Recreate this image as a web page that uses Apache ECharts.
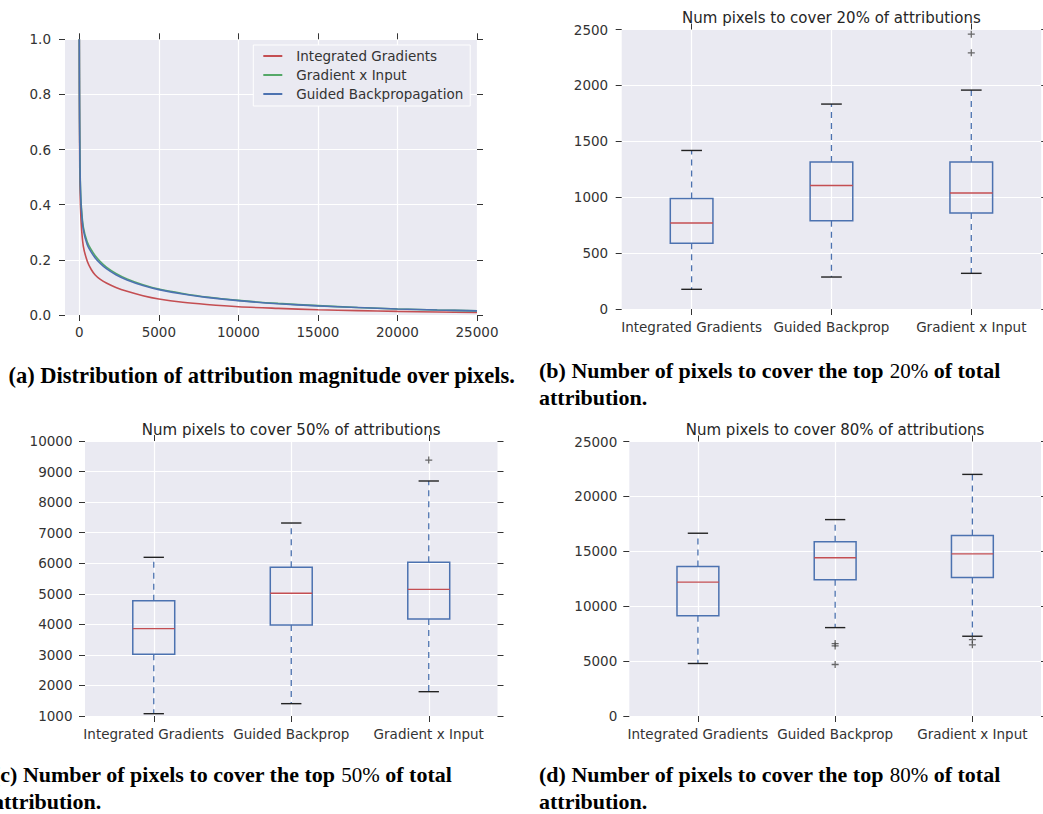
<!DOCTYPE html>
<html><head><meta charset="utf-8">
<script src="https://cdn.jsdelivr.net/npm/echarts@6/dist/echarts.min.js"></script>
<style>html,body{margin:0;padding:0;background:#fff}#c{width:1043px;height:814px}</style>
</head><body><div id="c"></div>
<script>
// ---------- data ----------
const lineX = [0,10,30,60,120,250,500,750,1000,1300,1700,2300,3000,4000,5000,6500,8000,10000,12500,15000,17500,20000,22500,25000];
const igCurve  = [1.0,0.75,0.52,0.42,0.33,0.25,0.195,0.165,0.145,0.130,0.116,0.100,0.086,0.070,0.058,0.046,0.038,0.030,0.024,0.019,0.016,0.013,0.011,0.009];
const gxiCurve = [1.0,0.80,0.61,0.49,0.40,0.32,0.265,0.237,0.215,0.195,0.174,0.151,0.131,0.110,0.094,0.078,0.065,0.053,0.042,0.034,0.027,0.022,0.018,0.015];
const gbCurve  = [1.0,0.80,0.60,0.48,0.39,0.31,0.255,0.228,0.207,0.188,0.168,0.146,0.127,0.107,0.092,0.076,0.064,0.052,0.041,0.033,0.027,0.022,0.018,0.015];
const lineNames = ['Integrated Gradients','Gradient x Input','Guided Backpropagation'];
const xTicksA = [0,5000,10000,15000,20000,25000];

const methods = ['Integrated Gradients','Guided Backprop','Gradient x Input'];
// each row: [low whisker, Q1, median, Q3, high whisker]
const box20 = [[176,587,769,989,1418],[286,790,1105,1314,1833],[319,858,1037,1314,1958]];
const out20 = [[2,2291],[2,2458]];
const box50 = [[1076,3018,3858,4775,6193],[1404,3978,5015,5865,7316],[1796,4175,5145,6029,8691]];
const out50 = [[2,9378]];
const box80 = [[4782,9140,12197,13620,16646],[8051,12409,14407,15860,17887],[7264,12621,14770,16434,22004]];
const out80 = [[1,6600],[1,6380],[1,4690],[2,6950],[2,6480]];

const titles = ['Num pixels to cover 20% of attributions','Num pixels to cover 50% of attributions','Num pixels to cover 80% of attributions'];

// ---------- styles ----------
const BLUE='#4C72B0', RED='#C44E52', GREEN='#55A868', BG='#EAEAF2';
const FONT='DejaVu Sans', TXT='#333';
const tick = {show:true, length:6, inside:false, lineStyle:{color:'#333', width:1}};
const split = {show:true, lineStyle:{color:'#fff', width:1.2}};
const noLine = {show:false, onZero:false};
const lbl = (m, extra) => Object.assign({fontFamily:FONT, fontSize:13.5, color:TXT, margin:m, lineHeight:14}, extra||{});

const grids = [
  {left:65, top:39.3, width:412, height:275.7},
  {left:621.7, top:29.5, width:419.5, height:279.5},
  {left:85, top:441, width:412.5, height:275},
  {left:629.3, top:441.5, width:411.7, height:274.5}
].map(g => Object.assign({show:true, backgroundColor:BG, borderWidth:0}, g));

const xAxes = [], yAxes = [];
// panel (a)
xAxes.push({type:'value', gridIndex:0, position:'bottom', min:-900, max:25000,
  axisLine:noLine, axisTick:Object.assign({customValues:xTicksA}, tick),
  axisLabel:lbl(10,{customValues:xTicksA, formatter:v=>String(v)}), splitLine:split});
xAxes.push({type:'value', gridIndex:0, position:'top', min:-900, max:25000,
  axisLine:noLine, axisTick:Object.assign({customValues:xTicksA}, tick),
  axisLabel:{show:false}, splitLine:{show:false}});
yAxes.push({type:'value', gridIndex:0, position:'left', min:0, max:1, interval:0.2,
  axisLine:noLine, axisTick:tick, axisLabel:lbl(14,{formatter:v=>v.toFixed(1)}), splitLine:split});
yAxes.push({type:'value', gridIndex:0, position:'right', min:0, max:1, interval:0.2,
  axisLine:noLine, axisTick:tick, axisLabel:{show:false}, splitLine:{show:false}});

// box panels
const boxCfg = [
  {g:1, min:0, max:2500, interval:500, ym:13.5, xm:11},
  {g:2, min:1000, max:10000, interval:1000, ym:12.5, xm:10.6},
  {g:3, min:0, max:25000, interval:5000, ym:12, xm:10.6}
];
boxCfg.forEach(c => {
  xAxes.push({type:'category', gridIndex:c.g, position:'bottom', data:methods, boundaryGap:true,
    axisLine:noLine, axisTick:Object.assign({alignWithLabel:true}, tick),
    axisLabel:lbl(c.xm,{interval:0}), splitLine:Object.assign({alignWithLabel:true}, split)});
  xAxes.push({type:'category', gridIndex:c.g, position:'top', data:methods, boundaryGap:true,
    axisLine:noLine, axisTick:Object.assign({alignWithLabel:true}, tick),
    axisLabel:{show:false}, splitLine:{show:false}});
  yAxes.push({type:'value', gridIndex:c.g, position:'left', min:c.min, max:c.max, interval:c.interval,
    axisLine:noLine, axisTick:tick, axisLabel:lbl(c.ym,{formatter:v=>String(v)}), splitLine:split});
  yAxes.push({type:'value', gridIndex:c.g, position:'right', min:c.min, max:c.max, interval:c.interval,
    axisLine:noLine, axisTick:tick, axisLabel:{show:false}, splitLine:{show:false}});
});

function boxSeries(data, axisIdx) {
  return {
    type:'custom', xAxisIndex:axisIdx*2, yAxisIndex:axisIdx*2,
    data: data.map((d,i)=>[i].concat(d)),
    encode:{x:0, y:[1,2,3,4,5]},
    renderItem:(params, api) => {
      const i = api.value(0);
      const cw = api.size([1,0])[0];
      const bw = cw*0.305, capw = cw*0.148;
      const p = k => api.coord([i, api.value(k)]);
      const lo=p(1), q1=p(2), md=p(3), q3=p(4), hi=p(5);
      const cx = lo[0];
      const wh = {stroke:BLUE, lineWidth:1.3, lineDash:[6,5], fill:null};
      const cap = {stroke:'#222', lineWidth:1.4};
      return {type:'group', children:[
        {type:'line', shape:{x1:cx,y1:q3[1],x2:cx,y2:hi[1]}, style:wh},
        {type:'line', shape:{x1:cx,y1:q1[1],x2:cx,y2:lo[1]}, style:wh},
        {type:'line', shape:{x1:cx-capw/2,y1:hi[1],x2:cx+capw/2,y2:hi[1]}, style:cap},
        {type:'line', shape:{x1:cx-capw/2,y1:lo[1],x2:cx+capw/2,y2:lo[1]}, style:cap},
        {type:'rect', shape:{x:cx-bw/2, y:q3[1], width:bw, height:q1[1]-q3[1]}, style:{fill:'none', stroke:BLUE, lineWidth:1.5}},
        {type:'line', shape:{x1:cx-bw/2,y1:md[1],x2:cx+bw/2,y2:md[1]}, style:{stroke:RED, lineWidth:1.4}}
      ]};
    }
  };
}
const PLUS = 'path://M4.1,0H5.9V4.1H10V5.9H5.9V10H4.1V5.9H0V4.1H4.1Z';
function outSeries(data, axisIdx) {
  return {type:'scatter', xAxisIndex:axisIdx*2, yAxisIndex:axisIdx*2, data:data,
    symbol:PLUS, symbolSize:7, itemStyle:{color:'#444'}, silent:true, z:5};
}

const lineCurves = [igCurve, gxiCurve, gbCurve];
const lineColors = [RED, GREEN, BLUE];
const series = lineCurves.map((arr, k) => ({
  type:'line', name:lineNames[k], xAxisIndex:0, yAxisIndex:0,
  data: lineX.map((x,i)=>[x, arr[i]]),
  showSymbol:false, smooth:0.3, clip:true,
  lineStyle:{color:lineColors[k], width:1.6}, itemStyle:{color:lineColors[k]}
}));
[box20, box50, box80].forEach((b,k)=>series.push(boxSeries(b, k+1)));
[out20, out50, out80].forEach((o,k)=>series.push(outSeries(o, k+1)));

// titles & captions
const titlePos = [[831.4,18.1],[291.2,429.8],[835.1,429.8]];
const graphic = titles.map((t,k)=>({type:'text', x:titlePos[k][0], y:titlePos[k][1], z:10,
  style:{text:t, fill:'#262626', font:'15px "DejaVu Sans"', textAlign:'center', textVerticalAlign:'middle'}}));

const capRich = {
  b:{fontFamily:'Liberation Serif', fontWeight:'bold', fontSize:22, lineHeight:27, color:'#000'},
  a:{fontFamily:'Liberation Serif', fontWeight:'bold', fontSize:22.5, lineHeight:27, color:'#000'},
  n:{fontFamily:'Liberation Serif', fontWeight:'normal', fontSize:21, lineHeight:27, color:'#000'}
};
const captions = [
  {x:8.5, y:362, text:'{a|(a) Distribution of attribution magnitude over pixels.}'},
  {x:539, y:357, text:'{b|(b) Number of pixels to cover the top }{n|20%}{b| of total}\n{b|attribution.}'},
  {x:-7, y:761, text:'{b|(c) Number of pixels to cover the top }{n|50%}{b| of total}\n{b|attribution.}'},
  {x:539, y:761, text:'{b|(d) Number of pixels to cover the top }{n|80%}{b| of total}\n{b|attribution.}'}
];
captions.forEach(c => graphic.push({type:'text', x:c.x, y:c.y, z:10,
  style:{text:c.text, rich:capRich, textAlign:'left', textVerticalAlign:'top', fill:'#000'}}));

const chart = echarts.init(document.getElementById('c'), null, {renderer:'svg'});
chart.setOption({
  animation:false,
  backgroundColor:'#fff',
  grid:grids, xAxis:xAxes, yAxis:yAxes, series:series, graphic:graphic,
  legend:{data:lineNames, left:253.3, top:45, orient:'vertical', selectedMode:false,
    icon:'rect', itemWidth:19, itemHeight:2, itemGap:5, padding:[4,7,5,10],
    backgroundColor:BG, borderColor:'rgba(255,255,255,0.95)', borderWidth:1, borderRadius:0,
    textStyle:{fontFamily:FONT, fontSize:13.5, color:TXT, lineHeight:14, padding:[0,0,0,9]}}
});
</script></body></html>
